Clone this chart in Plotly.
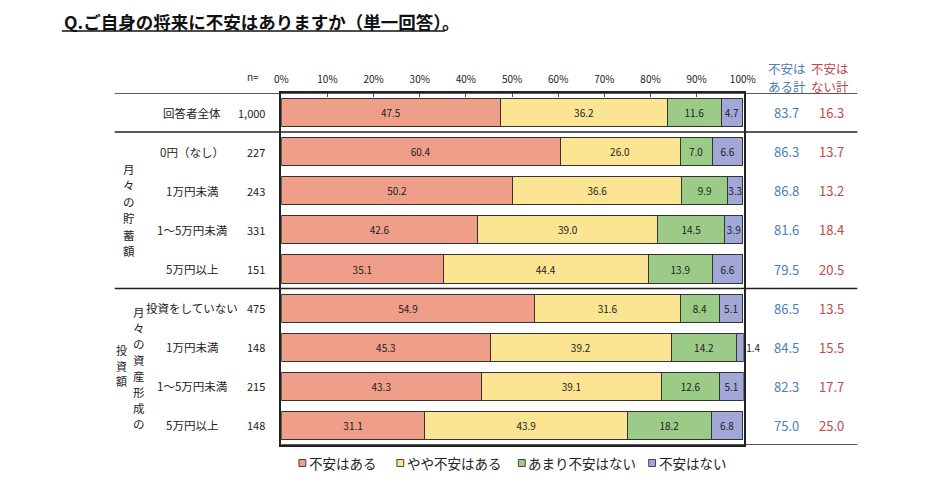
import plotly.graph_objects as go

W, H = 934, 482

categories = ["回答者全体", "0円（なし）", "1万円未満", "1～5万円未満", "5万円以上",
              "投資をしていない", "1万円未満", "1～5万円未満", "5万円以上"]
n_values = ["1,000", "227", "243", "331", "151", "475", "148", "215", "148"]
series_names = ["不安はある", "やや不安はある", "あまり不安はない", "不安はない"]
s_fuan_aru = [47.5, 60.4, 50.2, 42.6, 35.1, 54.9, 45.3, 43.3, 31.1]
s_yaya = [36.2, 26.0, 36.6, 39.0, 44.4, 31.6, 39.2, 39.1, 43.9]
s_amari = [11.6, 7.0, 9.9, 14.5, 13.9, 8.4, 14.2, 12.6, 18.2]
s_nai = [4.7, 6.6, 3.3, 3.9, 6.6, 5.1, 1.4, 5.1, 6.8]
total_aru = [83.7, 86.3, 86.8, 81.6, 79.5, 86.5, 84.5, 82.3, 75.0]
total_nai = [16.3, 13.7, 13.2, 18.4, 20.5, 13.5, 15.5, 17.7, 25.0]
tick_values = [0, 10, 20, 30, 40, 50, 60, 70, 80, 90, 100]
tick_labels = ["0%", "10%", "20%", "30%", "40%", "50%", "60%", "70%", "80%", "90%", "100%"]
title_text = "Q.ご自身の将来に不安はありますか（単一回答）。"
header_aru = ["不安は", "ある計"]
header_nai = ["不安は", "ない計"]
group1_label = "月々の貯蓄額"
group2_col1 = "月々の資産形成の"
group2_col2 = "投資額"

colors = ["#EE9E89", "#FCE592", "#9BCB86", "#A1A7D7"]
BLUE = "#4A7DBA"
RED = "#C0474A"
FONT = "Noto Sans CJK JP"

def px(x):
    return x / W

def py(y):
    return 1 - y / H

rows = list(range(len(categories)))
fig = go.Figure()
for name, vals, col in zip(series_names, [s_fuan_aru, s_yaya, s_amari, s_nai], colors):
    positions = ["outside" if (vals is s_nai and v < 2) else "inside" for v in vals]
    fig.add_trace(go.Bar(
        y=rows, x=vals, name=name, orientation="h", showlegend=False,
        marker=dict(color=col, line=dict(color="#333333", width=1)),
        texttemplate="%{x:.1f}", textposition=positions,
        insidetextanchor="middle", constraintext="none",
        textfont=dict(family=FONT, size=10, color="#222222"),
        cliponaxis=False,
    ))

ann = []
for i in rows:
    ann.append(dict(x=px(189), y=i, xref="paper", yref="y", text=categories[i],
                    showarrow=False, xanchor="center", font=dict(size=11.5, color="#222")))
    ann.append(dict(x=px(265), y=i, xref="paper", yref="y", text=n_values[i],
                    showarrow=False, xanchor="right", font=dict(size=11, color="#222")))
    ann.append(dict(x=px(796), y=i, xref="paper", yref="y", text=f"{total_aru[i]:.1f}",
                    showarrow=False, xanchor="center", font=dict(size=13, color=BLUE)))
    ann.append(dict(x=px(842), y=i, xref="paper", yref="y", text=f"{total_nai[i]:.1f}",
                    showarrow=False, xanchor="center", font=dict(size=13, color=RED)))

ann.append(dict(x=px(56), y=py(22), xref="paper", yref="paper", text="<b>" + title_text + "</b>",
                showarrow=False, xanchor="left", yanchor="middle", font=dict(size=17.5, color="#111")))
ann.append(dict(x=px(259), y=py(76), xref="paper", yref="paper", text="n=",
                showarrow=False, xanchor="right", yanchor="middle", font=dict(size=10, color="#222")))
for k, (ta, tn) in enumerate(zip(header_aru, header_nai)):
    yy = py(69 + k * 17)
    ann.append(dict(x=px(796), y=yy, xref="paper", yref="paper", text=ta, borderpad=0,
                    showarrow=False, xanchor="center", yanchor="middle", font=dict(size=12.5, color=BLUE)))
    ann.append(dict(x=px(840), y=yy, xref="paper", yref="paper", text=tn, borderpad=0,
                    showarrow=False, xanchor="center", yanchor="middle", font=dict(size=12.5, color=RED)))

# vertical (tategaki) group labels, one character per annotation
def vertical_text(text, x, y_start, step, size=11.5):
    for k, ch in enumerate(text):
        ann.append(dict(x=px(x), y=py(y_start + k * step), xref="paper", yref="paper",
                        text=ch, showarrow=False, xanchor="center", yanchor="middle",
                        borderpad=0, font=dict(size=size, color="#222")))

vertical_text(group1_label, 125, 169, 16.4)
vertical_text(group2_col1, 135, 312, 16.0)
vertical_text(group2_col2, 117, 350, 15.6, size=11)

shapes = [
    dict(type="line", xref="paper", yref="y", x0=px(110), x1=px(868), y0=-0.5, y1=-0.5,
         line=dict(color="#222", width=1.5)),
    dict(type="line", xref="paper", yref="y", x0=px(110), x1=px(868), y0=0.5, y1=0.5,
         line=dict(color="#222", width=1.5)),
    dict(type="line", xref="paper", yref="y", x0=px(110), x1=px(868), y0=4.5, y1=4.5,
         line=dict(color="#222", width=1.5)),
    dict(type="line", xref="paper", yref="y", x0=px(280), x1=px(868), y0=8.5, y1=8.5,
         line=dict(color="#222", width=1.5)),
    dict(type="line", xref="paper", yref="paper", x0=px(56), x1=px(447), y0=py(31), y1=py(31),
         line=dict(color="#111", width=1.5)),
]

# compact legend (square + text), like the original
legend_sq_x = [298, 398, 522, 655]
for name, col, lx in zip(series_names, colors, legend_sq_x):
    shapes.append(dict(type="rect", xref="paper", yref="paper",
                       x0=px(lx), x1=px(lx + 7), y0=py(466.5), y1=py(459.5),
                       fillcolor=col, line=dict(color="#444", width=1)))
    ann.append(dict(x=px(lx + 8), y=py(463), xref="paper", yref="paper", text=name,
                    showarrow=False, xanchor="left", yanchor="middle",
                    font=dict(size=13.5, color="#222")))

fig.update_layout(
    width=W, height=H, margin=dict(l=0, r=0, t=0, b=0),
    paper_bgcolor="white", plot_bgcolor="white",
    barmode="stack", bargap=0.28,
    font=dict(family=FONT, color="#222"),
    xaxis=dict(domain=[px(280), px(752)], range=[0, 100.2], side="top",
               tickvals=tick_values, ticktext=tick_labels, ticks="inside", ticklen=4,
               tickcolor="#555", tickfont=dict(size=10, color="#222"), ticklabelstandoff=4,
               showline=True, mirror=True, linecolor="#222", linewidth=1.5,
               showgrid=False, zeroline=False, fixedrange=True),
    yaxis=dict(domain=[py(445), py(93)], range=[8.5, -0.5], showticklabels=False,
               showline=True, mirror=True, linecolor="#222", linewidth=1.5,
               showgrid=False, zeroline=False, ticks="", fixedrange=True),
    annotations=ann, shapes=shapes,
)

fig.write_html("out.html", config={"displayModeBar": False},
               post_script="document.body.style.margin='0';")
